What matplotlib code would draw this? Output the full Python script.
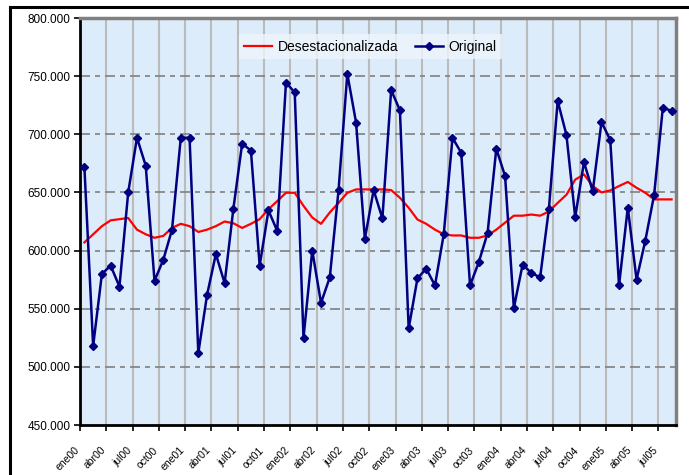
import matplotlib
matplotlib.use("Agg")
import matplotlib.pyplot as plt
import matplotlib.transforms as mtransforms
from matplotlib.lines import Line2D
import numpy as np

plt.rcParams['font.family'] = ['Liberation Sans', 'DejaVu Sans']

months = ['ene', 'feb', 'mar', 'abr', 'may', 'jun', 'jul', 'ago', 'sep', 'oct', 'nov', 'dic']
years = ['00', '01', '02', '03', '04', '05']
categories = [m + y for y in years for m in months][:68]

# values in thousands
original = [672, 518, 580, 587, 569, 650, 697, 673, 574, 592, 618, 697,
            697, 512, 562, 597, 572, 636, 692, 686, 587, 634.5, 617, 744.5,
            736, 525, 600, 555, 577, 652, 752, 710, 610, 652, 627.6, 738,
            720.7, 533, 576, 584.5, 570, 614, 697, 684, 570, 590, 615, 687.6,
            664, 550.6, 588, 580.7, 577, 636, 728.7, 699.4, 628.7, 676, 651, 710.6,
            695, 570, 637, 575, 608.6, 647.7, 723, 720]

desest = [607, 614, 621, 626, 627, 628, 618, 614, 611, 612.6, 619.5, 623,
          621, 616, 618, 621, 625, 623.5, 619.5, 623, 627, 635.6, 642.5, 649.7,
          649.7, 638.5, 628.4, 623, 632.8, 641, 649.7, 652.6, 652.6, 652.6, 652.6, 652,
          645.4, 636.8, 626.7, 623, 618, 614, 613, 613, 611, 611, 613, 618,
          624, 630, 630, 631, 630, 633.6, 641, 648, 661, 665.5, 655.5, 650,
          651.7, 655.5, 659, 654, 649.7, 644, 644, 644]

yticks = [450, 500, 550, 600, 650, 700, 750, 800]

fig = plt.figure(figsize=(6.89, 4.75), dpi=100)
fig.patch.set_facecolor('white')
ax = fig.add_axes([80/689, 1-425/475, 596/689, 407/475])
ax.set_facecolor('#DDECFA')

x = np.arange(len(categories))
ax.plot(x, desest, color='#FF0000', lw=1.6, label='Desestacionalizada', zorder=3)
ax.plot(x, original, color='#000080', lw=1.8, marker='D', ms=4.2,
        markeredgecolor='#000080', markerfacecolor='#000080', label='Original', zorder=4)

ax.set_xlim(-0.5, len(categories) - 0.5)
ax.set_ylim(450, 800)

# vertical grid at tick boundaries
bounds = np.arange(-0.5, len(categories), 3)
ax.set_xticks(bounds)
ax.set_xticklabels([])
for b in bounds[1:]:
    ax.axvline(b, color='#BBBBBB', lw=1.5, zorder=1)
for v in yticks[1:-1]:
    ax.axhline(v, color='#808080', lw=1.2, dashes=(6, 3, 3, 3), zorder=1)
ax.tick_params(axis='x', which='major', length=4, width=1.2, color='black', direction='out')

# category labels every 3 months
trans = mtransforms.blended_transform_factory(ax.transData, ax.transAxes) + \
    mtransforms.ScaledTranslation(-10/100, -20/100, fig.dpi_scale_trans)
for i in x[::3]:
    ax.text(i, 0, categories[i], transform=trans, rotation=45, ha='right', va='top',
            rotation_mode='anchor', fontsize=7.5, clip_on=False)

ax.set_yticks(yticks)
ax.set_yticklabels([f"{v:,}.000".replace(',', '.') for v in yticks], fontsize=8.5)
ax.tick_params(axis='y', length=4, width=1.2, direction='out', pad=3)

for s in ['left', 'bottom']:
    ax.spines[s].set_color('black')
    ax.spines[s].set_linewidth(2)
for s in ['top', 'right']:
    ax.spines[s].set_color('#808080')
    ax.spines[s].set_linewidth(2.5)

leg = ax.legend(loc='center', bbox_to_anchor=(0.487, 0.929), ncol=2, fontsize=10,
                handlelength=2.0, columnspacing=1.2, handletextpad=0.4,
                frameon=True, fancybox=False, borderpad=0.4)
leg.get_frame().set_facecolor('#EEF5FD')
leg.get_frame().set_edgecolor('none')
leg.get_frame().set_alpha(0.8)

# outer black frame (top and left)
fig.add_artist(Line2D([10/689, 1], [1-7/475, 1-7/475], color='black', lw=2.2,
                      transform=fig.transFigure))
fig.add_artist(Line2D([10/689, 10/689], [0, 1-7/475], color='black', lw=2.2,
                      transform=fig.transFigure))

fig.savefig('out.png', dpi=100)
